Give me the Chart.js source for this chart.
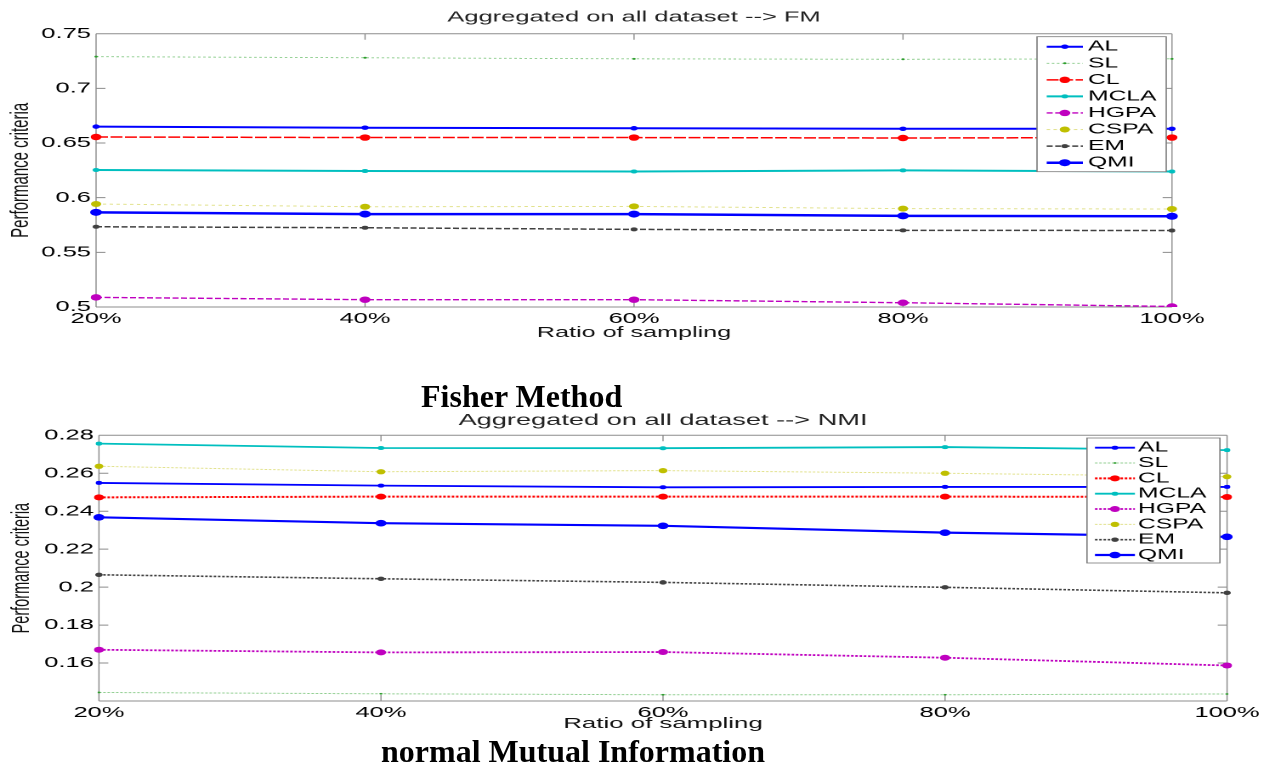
<!DOCTYPE html>
<html>
<head>
<meta charset="utf-8">
<script src="https://cdn.jsdelivr.net/npm/chart.js@4.4.0/dist/chart.umd.min.js"></script>
<style>
body{margin:0;background:#fff;width:1274px;height:767px;overflow:hidden;position:relative}
canvas{position:absolute;left:0;transform:scaleX(1.7);transform-origin:0 0}
#fm{top:0}
#nmi{top:400px}
.cap{position:absolute;font-family:"Liberation Serif","Times New Roman",serif;font-weight:bold;font-size:32px;line-height:32px;white-space:nowrap;color:#000}
</style>
</head>
<body>
<canvas id="fm" width="750" height="345"></canvas>
<canvas id="nmi" width="750" height="335"></canvas>
<div class="cap" style="left:421px;top:380px">Fisher Method</div>
<div class="cap" style="left:381px;top:735px">normal Mutual Information</div>
<script>
// x categories
const ratioLabels = ['20%', '40%', '60%', '80%', '100%']

// FM (Fisher method) values
const fmAL   = [0.665, 0.664, 0.6635, 0.663, 0.663]
const fmSL   = [0.729, 0.728, 0.727, 0.7266, 0.727]
const fmCL   = [0.6555, 0.655, 0.655, 0.6546, 0.655]
const fmMCLA = [0.6253, 0.6244, 0.624, 0.625, 0.624]
const fmHGPA = [0.5088, 0.5067, 0.5067, 0.5039, 0.5005]
const fmCSPA = [0.5942, 0.5917, 0.592, 0.590, 0.5896]
const fmEM   = [0.5734, 0.5725, 0.571, 0.5701, 0.570]
const fmQMI  = [0.5866, 0.585, 0.585, 0.5834, 0.583]

// NMI values
const nmiAL   = [0.2549, 0.2535, 0.2526, 0.2528, 0.2528]
const nmiSL   = [0.1445, 0.1438, 0.1433, 0.1433, 0.1437]
const nmiCL   = [0.2473, 0.2477, 0.2477, 0.2477, 0.2475]
const nmiMCLA = [0.2756, 0.2733, 0.2732, 0.2738, 0.2722]
const nmiHGPA = [0.1670, 0.1656, 0.1658, 0.1628, 0.1587]
const nmiCSPA = [0.2637, 0.2608, 0.2614, 0.2600, 0.2582]
const nmiEM   = [0.2065, 0.2044, 0.2025, 0.1999, 0.1970]
const nmiQMI  = [0.2368, 0.2337, 0.2323, 0.2287, 0.2265]

const FONT = '"Liberation Sans", Arial, sans-serif'
Chart.defaults.font.family = FONT
Chart.defaults.color = '#000'

function ds(label, data, color, width, dash, radius, line) {
  return {
    label: label, data: data,
    borderColor: line || color, borderWidth: width, borderDash: dash,
    pointRadius: radius, pointBackgroundColor: color, pointBorderWidth: 0,
    pointHoverRadius: radius, tension: 0, fill: false
  }
}

// box around the axes with inward ticks (matlab look) + title over the plot
const frame = {
  id: 'frame',
  beforeDatasetsDraw(chart, args, o) {
    const {ctx, chartArea: a, scales} = chart
    const x = scales.x, y = scales.y
    ctx.save()
    ctx.strokeStyle = '#8c8c8c'
    ctx.lineWidth = 1
    ctx.beginPath()
    ctx.moveTo(a.left, a.top); ctx.lineTo(a.right, a.top)
    ctx.moveTo(a.left, a.bottom); ctx.lineTo(a.right, a.bottom)
    y.ticks.forEach(t => {
      const py = y.getPixelForValue(t.value)
      ctx.moveTo(a.left, py); ctx.lineTo(a.left + 5.5, py)
      ctx.moveTo(a.right, py); ctx.lineTo(a.right - 5.5, py)
    })
    ctx.stroke()
    ctx.lineWidth = 0.7
    ctx.beginPath()
    ctx.moveTo(a.left, a.top); ctx.lineTo(a.left, a.bottom)
    ctx.moveTo(a.right, a.top); ctx.lineTo(a.right, a.bottom)
    x.ticks.forEach((t, i) => {
      const px = x.getPixelForTick(i)
      ctx.moveTo(px, a.top); ctx.lineTo(px, a.top + 6)
      ctx.moveTo(px, a.bottom); ctx.lineTo(px, a.bottom - 6)
    })
    ctx.stroke()
    ctx.fillStyle = '#222'
    ctx.font = o.size + 'px ' + FONT
    ctx.textAlign = 'center'
    ctx.textBaseline = 'middle'
    ctx.fillText(o.text, (a.left + a.right) / 2, o.y)
    ctx.restore()
  }
}

// legend drawn inside the plot, top right
const boxLegend = {
  id: 'boxLegend',
  afterDraw(chart, args, o) {
    const {ctx, chartArea: a} = chart
    const x0 = a.right - o.gapRight - o.width
    const y0 = a.top + o.gapTop
    ctx.save()
    ctx.fillStyle = '#fff'
    ctx.fillRect(x0, y0, o.width, o.height)
    ctx.strokeStyle = '#7a7a7a'
    ctx.lineWidth = 0.8
    ctx.strokeRect(x0, y0, o.width, o.height)
    ctx.font = o.fontSize + 'px ' + FONT
    ctx.textBaseline = 'middle'
    chart.data.datasets.forEach((d, i) => {
      const cy = y0 + o.first + i * o.row
      ctx.strokeStyle = d.borderColor
      ctx.lineWidth = d.borderWidth
      ctx.setLineDash(d.borderDash || [])
      ctx.beginPath()
      ctx.moveTo(x0 + o.lineFrom, cy); ctx.lineTo(x0 + o.lineTo, cy)
      ctx.stroke()
      ctx.setLineDash([])
      ctx.fillStyle = d.pointBackgroundColor
      ctx.beginPath()
      ctx.arc(x0 + (o.lineFrom + o.lineTo) / 2, cy, d.pointRadius, 0, Math.PI * 2)
      ctx.fill()
      ctx.fillStyle = '#000'
      ctx.fillText(d.label, x0 + o.textX, cy)
    })
    ctx.restore()
  }
}

function makeChart(id, c) {
  new Chart(document.getElementById(id), {
    type: 'line',
    data: { labels: ratioLabels, datasets: c.datasets },
    options: {
      responsive: false,
      devicePixelRatio: 2,
      animation: false,
      layout: { padding: { left: 0, right: c.rightPad, top: c.top, bottom: 0 } },
      plugins: {
        legend: { display: false },
        tooltip: { enabled: false },
        title: { display: false },
        frame: { text: c.title, size: c.titleSize, y: c.titleY },
        boxLegend: c.legend
      },
      scales: {
        x: {
          afterFit: s => { s.height = c.xHeight },
          grid: { display: false, drawTicks: false },
          border: { display: false },
          ticks: { padding: 3, maxRotation: 0, autoSkip: false, font: { size: 15 } },
          title: {
            display: true, text: 'Ratio of sampling', color: '#111',
            font: { size: c.xTitleSize }, padding: { top: 0, bottom: c.xTitlePad }
          }
        },
        y: {
          min: c.yMin, max: c.yMax,
          afterFit: s => { s.width = c.left },
          grid: { display: false, drawTicks: false },
          border: { display: false },
          ticks: {
            stepSize: c.step, padding: 3, autoSkip: false, font: { size: 15 },
            callback: v => (c.hide !== undefined && Math.abs(v - c.hide) < 1e-9) ? '' : String(+v.toFixed(2))
          },
          title: {
            display: true, text: 'Performance criteria', color: '#111',
            font: { size: c.yTitleSize }, padding: { top: c.yTitlePad, bottom: 0 }
          }
        }
      }
    },
    plugins: [frame, boxLegend]
  })
}

makeChart('fm', {
  title: 'Aggregated on all dataset --> FM', titleSize: 15, titleY: 17.5, top: 33.7,
  yMin: 0.5, yMax: 0.75, step: 0.05,
  left: 56.5, rightPad: 60.6, xHeight: 38, xTitleSize: 14.8, xTitlePad: 3.2,
  yTitleSize: 15, yTitlePad: 3.4,
  legend: { width: 76, height: 135, gapRight: 3.4, gapTop: 3, first: 10, row: 16.57,
            lineFrom: 5.7, lineTo: 27, textX: 30, fontSize: 14.5 },
  datasets: [
    ds('AL', fmAL, '#0000ff', 2, [], 2.2),
    ds('SL', fmSL, '#2e9e2e', 0.9, [1.5, 1.5], 1, 'rgba(40,160,40,0.55)'),
    ds('CL', fmCL, '#ff0000', 1.5, [7, 1.5], 3.2),
    ds('MCLA', fmMCLA, '#00bfbf', 2, [], 2),
    ds('HGPA', fmHGPA, '#bf00bf', 1.4, [3.5, 1.5], 3.2),
    ds('CSPA', fmCSPA, '#bfbf00', 1, [2, 2], 3, 'rgba(191,191,0,0.45)'),
    ds('EM', fmEM, '#404040', 1.5, [3.5, 1.5], 2),
    ds('QMI', fmQMI, '#0000ff', 2.5, [], 3.5)
  ]
})

makeChart('nmi', {
  title: 'Aggregated on all dataset --> NMI', titleSize: 16, titleY: 20.6, top: 35.3,
  yMin: 0.14, yMax: 0.28, step: 0.02, hide: 0.14,
  left: 58.2, rightPad: 28.2, xHeight: 34, xTitleSize: 15.2, xTitlePad: 2.2,
  yTitleSize: 14.5, yTitlePad: 4.1,
  legend: { width: 78.2, height: 125, gapRight: 4.2, gapTop: 2.7, first: 9.7, row: 15.33,
            lineFrom: 4.7, lineTo: 28.2, textX: 30, fontSize: 14.5 },
  datasets: [
    ds('AL', nmiAL, '#0000ff', 1.8, [], 2),
    ds('SL', nmiSL, '#2e9e2e', 1, [1.5, 1], 0.9, 'rgba(40,160,40,0.5)'),
    ds('CL', nmiCL, '#ff0000', 2, [1.5, 1], 3),
    ds('MCLA', nmiMCLA, '#00bfbf', 1.8, [], 2),
    ds('HGPA', nmiHGPA, '#bf00bf', 1.8, [1.5, 1], 3),
    ds('CSPA', nmiCSPA, '#bfbf00', 1, [1.5, 1], 2.6, 'rgba(191,191,0,0.45)'),
    ds('EM', nmiEM, '#404040', 1.6, [1.5, 1], 2.2),
    ds('QMI', nmiQMI, '#0000ff', 2.2, [], 3.3)
  ]
})
</script>
</body>
</html>
